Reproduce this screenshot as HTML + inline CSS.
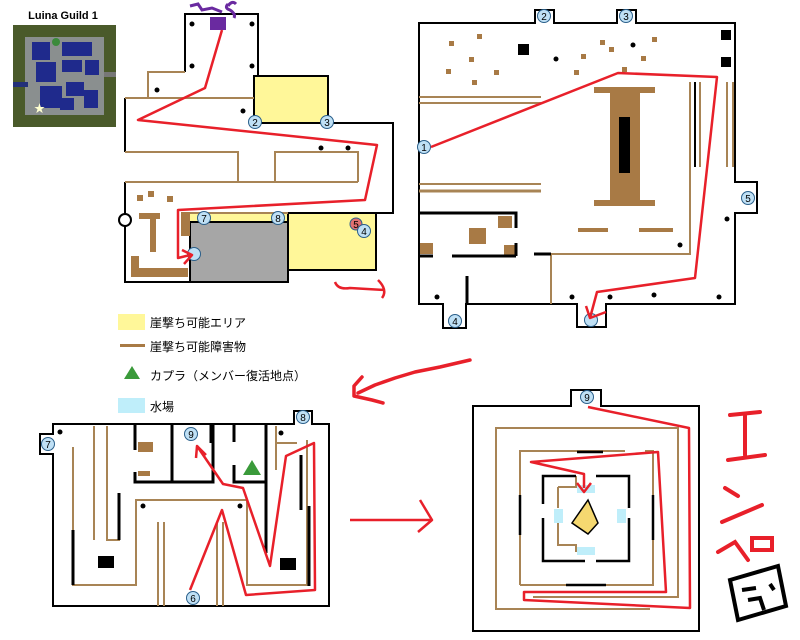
<!DOCTYPE html>
<html><head><meta charset="utf-8"><style>
html,body{margin:0;padding:0;background:#fff;width:800px;height:640px;overflow:hidden}
svg{display:block}
text{font-family:"Liberation Sans","Noto Sans CJK JP",sans-serif}
</style></head><body>
<svg width="800" height="640" viewBox="0 0 800 640" xmlns="http://www.w3.org/2000/svg">
<defs>
<g id="n"><circle r="6.5" fill="#bfe0f5" stroke="#2a5f8a" stroke-width="1"/></g>
</defs>
<!-- minimap -->
<text x="63" y="19" font-size="11" text-anchor="middle" font-weight="bold">Luina Guild 1</text>
<rect x="13" y="25" width="103" height="102" fill="#4a5a2a"/>
<rect x="25" y="37" width="79" height="78" fill="#8a8f8f"/>
<rect x="13" y="82" width="15" height="5" fill="#23307a"/>
<rect x="104" y="72" width="12" height="5" fill="#777"/>
<g fill="#1f2a8c">
<rect x="32" y="42" width="18" height="18"/><rect x="62" y="42" width="30" height="14"/><rect x="36" y="62" width="20" height="20"/><rect x="62" y="60" width="20" height="12"/><rect x="85" y="60" width="14" height="15"/><rect x="40" y="86" width="22" height="22"/><rect x="66" y="82" width="18" height="14"/><rect x="84" y="90" width="14" height="18"/><rect x="60" y="98" width="14" height="12"/>
</g>
<circle cx="56" cy="42" r="4" fill="#3b8a3b"/>
<text x="34" y="112" font-size="11" fill="#ffffd0">★</text>

<!-- TOP-LEFT MAP -->
<rect x="190" y="213" width="98" height="10" fill="#fff799"/>
<rect x="288" y="213" width="88" height="57" fill="#fff799" stroke="#000" stroke-width="2"/>
<rect x="254" y="76" width="74" height="47" fill="#fff799" stroke="#000" stroke-width="2"/>
<rect x="190" y="222" width="98" height="60" fill="#a6a6a6" stroke="#000" stroke-width="2"/>
<polyline points="185,72 185,14 258,14 258,76" fill="none" stroke="#000" stroke-width="2"/>
<polyline points="328,123 393,123 393,213 376,213" fill="none" stroke="#000" stroke-width="2"/>
<polyline points="125,98 125,152" fill="none" stroke="#000" stroke-width="2"/>
<polyline points="125,182 125,282 190,282" fill="none" stroke="#000" stroke-width="2"/>
<g fill="none" stroke="#a88455" stroke-width="2">
<polyline points="185,72 148,72 148,98 125,98"/>
<line x1="148" y1="98" x2="254" y2="98"/>
<polyline points="125,152 238,152 238,182"/>
<polyline points="275,182 275,152 358,152 358,182"/>
<line x1="125" y1="182" x2="358" y2="182"/>
<line x1="190" y1="213" x2="288" y2="213"/>
</g>
<circle cx="125" cy="220" r="6" fill="#fff" stroke="#000" stroke-width="2"/>
<g fill="#a87a45">
<rect x="137" y="195" width="6" height="6"/><rect x="148" y="191" width="6" height="6"/><rect x="167" y="196" width="6" height="6"/>
<rect x="139" y="213" width="21" height="6"/><rect x="150" y="213" width="6" height="39"/>
<rect x="131" y="256" width="8" height="20"/><rect x="131" y="268" width="57" height="9"/>
<rect x="181" y="212" width="9" height="24"/>
</g>
<g fill="#000"><circle cx="192" cy="24" r="2.5"/><circle cx="252" cy="24" r="2.5"/><circle cx="192" cy="66" r="2.5"/><circle cx="252" cy="66" r="2.5"/><circle cx="157" cy="90" r="2.5"/><circle cx="243" cy="111" r="2.5"/><circle cx="321" cy="148" r="2.5"/><circle cx="348" cy="148" r="2.5"/></g>
<use href="#n" x="255" y="122"/><text x="255" y="126" font-size="10" text-anchor="middle">2</text>
<use href="#n" x="327" y="122"/><text x="327" y="126" font-size="10" text-anchor="middle">3</text>
<use href="#n" x="204" y="218"/><text x="204" y="222" font-size="10" text-anchor="middle">7</text>
<use href="#n" x="278" y="218"/><text x="278" y="222" font-size="10" text-anchor="middle">8</text>
<circle cx="356" cy="224" r="6" fill="#e07070" stroke="#2a5f8a"/><text x="356" y="228" font-size="10" text-anchor="middle">5</text>
<use href="#n" x="364" y="231"/><text x="364" y="235" font-size="10" text-anchor="middle">4</text>
<use href="#n" x="194" y="254"/>
<rect x="210" y="17" width="16" height="13" fill="#6a2aa0"/>
<path d="M190 6 L198 4 L202 10 L212 8 L222 12 M228 4 Q224 8 230 10 Q236 14 234 18 M228 6 Q232 0 236 4" fill="none" stroke="#6a2aa0" stroke-width="3"/>
<g fill="none" stroke="#e8202a" stroke-width="2.5" stroke-linejoin="round">
<polyline points="222,30 205,88 138,120 377,145 365,200 178,210 178,258 190,255"/>
<polyline points="182,250 192,255 184,264"/>
<path d="M335 282 Q338 290 350 288 L385 290 M378 280 Q388 290 382 298"/>
</g>

<!-- TOP-RIGHT MAP -->
<path d="M419 23 H535 V10 H554 V23 H617 V10 H636 V23 H735 V182 H757 V213 H735 V304 H606 V327 H577 V304 H466 V328 H443 V304 H419 Z" fill="#fff" stroke="#000" stroke-width="2"/>
<g fill="#a87a45">
<rect x="594" y="87" width="61" height="6"/><rect x="610" y="93" width="30" height="107"/><rect x="594" y="200" width="61" height="6"/>
<rect x="449" y="41" width="5" height="5"/><rect x="477" y="34" width="5" height="5"/><rect x="469" y="57" width="5" height="5"/><rect x="446" y="69" width="5" height="5"/><rect x="494" y="70" width="5" height="5"/><rect x="472" y="80" width="5" height="5"/><rect x="600" y="40" width="5" height="5"/><rect x="609" y="47" width="5" height="5"/><rect x="581" y="54" width="5" height="5"/><rect x="652" y="37" width="5" height="5"/><rect x="641" y="56" width="5" height="5"/><rect x="574" y="70" width="5" height="5"/><rect x="622" y="67" width="5" height="5"/>
<rect x="578" y="228" width="30" height="4"/><rect x="639" y="228" width="34" height="4"/>
<rect x="469" y="228" width="17" height="16"/><rect x="498" y="216" width="14" height="12"/><rect x="504" y="245" width="12" height="10"/><rect x="420" y="243" width="13" height="11"/>
</g>
<g fill="#000"><rect x="619" y="117" width="11" height="56"/><rect x="518" y="44" width="11" height="11"/><rect x="721" y="30" width="10" height="10"/><rect x="721" y="57" width="10" height="10"/></g>
<g stroke="#a88455" stroke-width="2" fill="none">
<line x1="419" y1="97" x2="541" y2="97"/><line x1="419" y1="103" x2="541" y2="103"/>
<line x1="419" y1="184" x2="541" y2="184"/><line x1="419" y1="191" x2="541" y2="191" stroke-width="3"/>
<polyline points="551,304 551,254 690,254 690,82"/>
<line x1="700" y1="82" x2="700" y2="167"/><line x1="727" y1="82" x2="727" y2="167"/><line x1="733" y1="82" x2="733" y2="167"/>
</g>
<g stroke="#000" stroke-width="3" fill="none">
<polyline points="419,213 516,213 516,228"/><line x1="516" y1="243" x2="516" y2="256"/>
<line x1="419" y1="256" x2="433" y2="256"/><line x1="452" y1="256" x2="516" y2="256"/><line x1="534" y1="254" x2="551" y2="254"/>
<line x1="467" y1="276" x2="467" y2="304"/><line x1="695" y1="82" x2="695" y2="167" stroke-width="2"/>
</g>
<g fill="#000"><circle cx="556" cy="59" r="2.5"/><circle cx="633" cy="45" r="2.5"/><circle cx="727" cy="219" r="2.5"/><circle cx="680" cy="245" r="2.5"/><circle cx="437" cy="297" r="2.5"/><circle cx="572" cy="297" r="2.5"/><circle cx="610" cy="297" r="2.5"/><circle cx="654" cy="295" r="2.5"/><circle cx="719" cy="297" r="2.5"/></g>
<use href="#n" x="544" y="16"/><text x="544" y="20" font-size="10" text-anchor="middle">2</text>
<use href="#n" x="626" y="16"/><text x="626" y="20" font-size="10" text-anchor="middle">3</text>
<use href="#n" x="424" y="147"/><text x="424" y="151" font-size="10" text-anchor="middle">1</text>
<use href="#n" x="748" y="198"/><text x="748" y="202" font-size="10" text-anchor="middle">5</text>
<use href="#n" x="455" y="321"/><text x="455" y="325" font-size="10" text-anchor="middle">4</text>
<use href="#n" x="591" y="320"/>
<g fill="none" stroke="#e8202a" stroke-width="2.5" stroke-linejoin="round">
<polyline points="431,147 618,73 717,77 695,278 597,292 590,318"/>
<polyline points="586,306 590,318 606,312"/>
</g>
<g fill="none" stroke="#e8202a" stroke-width="3.5" stroke-linecap="round" stroke-linejoin="round">
<path d="M470 360 L440 367 L415 372 L395 378 L375 385 L358 393"/>
<path d="M362 377 L354 386 L354 396 L372 400 L383 403"/>
</g>

<!-- LEGEND -->
<rect x="118" y="314" width="27" height="16" fill="#fff799"/>
<text x="150" y="327" font-size="12">崖撃ち可能エリア</text>
<rect x="120" y="344" width="25" height="3" fill="#a87a45"/>
<text x="150" y="351" font-size="12">崖撃ち可能障害物</text>
<polygon points="132,366 140,379 124,379" fill="#3a9a3a"/>
<text x="150" y="380" font-size="12">カプラ（メンバー復活地点）</text>
<rect x="118" y="398" width="27" height="15" fill="#bfeefa"/>
<text x="150" y="411" font-size="12">水場</text>

<!-- BOTTOM-LEFT MAP -->
<path d="M53 424 H294 V411 H312 V424 H329 V606 H53 V454 H40 V434 H53 Z" fill="#fff" stroke="#000" stroke-width="2"/>
<g stroke="#a88455" stroke-width="2" fill="none">
<polyline points="73,447 73,585 136,585 136,500 247,500 247,585 307,585 307,440"/>
<line x1="94" y1="426" x2="94" y2="540"/><polyline points="107,426 107,540 119,540 119,493"/>
<line x1="158" y1="522" x2="158" y2="606"/><line x1="164" y1="522" x2="164" y2="606"/>
<line x1="217" y1="522" x2="217" y2="606"/><line x1="223" y1="522" x2="223" y2="606"/>
<polyline points="276,426 276,470"/><line x1="277" y1="443" x2="297" y2="443"/>
<line x1="301" y1="455" x2="301" y2="510"/>
</g>
<g stroke="#000" stroke-width="3" fill="none">
<polyline points="135,424 135,450"/><polyline points="135,472 135,482 213,482 213,424"/>
<line x1="172" y1="424" x2="172" y2="482"/>
<line x1="211" y1="424" x2="211" y2="443"/><polyline points="234,465 234,482 266,482 266,424"/>
<line x1="234" y1="424" x2="234" y2="442"/>
<line x1="73" y1="530" x2="73" y2="585"/><line x1="119" y1="493" x2="119" y2="540"/>
<line x1="301" y1="455" x2="301" y2="510"/><line x1="309" y1="506" x2="309" y2="586"/>
<line x1="266" y1="482" x2="266" y2="553"/>
</g>
<g fill="#a87a45"><rect x="138" y="442" width="15" height="10"/><rect x="138" y="471" width="12" height="5"/></g>
<g fill="#000"><rect x="98" y="556" width="16" height="12"/><rect x="280" y="558" width="16" height="12"/><circle cx="60" cy="432" r="2.5"/><circle cx="143" cy="506" r="2.5"/><circle cx="240" cy="506" r="2.5"/><circle cx="281" cy="433" r="2.5"/></g>
<polygon points="252,460 261,475 243,475" fill="#3a9a3a"/>
<use href="#n" x="48" y="444"/><text x="48" y="448" font-size="10" text-anchor="middle">7</text>
<use href="#n" x="303" y="417"/><text x="303" y="421" font-size="10" text-anchor="middle">8</text>
<use href="#n" x="191" y="434"/><text x="191" y="438" font-size="10" text-anchor="middle">9</text>
<use href="#n" x="193" y="598"/><text x="193" y="602" font-size="10" text-anchor="middle">6</text>
<g fill="none" stroke="#e8202a" stroke-width="2.5" stroke-linejoin="round">
<polyline points="190,590 222,510 246,595 315,590 314,443 286,456 270,566 243,488 223,484 197,446"/>
<polyline points="196,458 197,446 206,455"/>
<path d="M350 520 L432 520 M420 500 L432 520 L418 532"/>
</g>

<!-- BOTTOM-RIGHT MAP -->
<path d="M473 406 H571 V390 H601 V406 H699 V631 H473 Z" fill="#fff" stroke="#000" stroke-width="2"/>
<g stroke="#a88455" stroke-width="2" fill="none">
<polyline points="650,609 496,609 496,428 678,428 678,597 533,597"/>
<polyline points="520,585 520,451 625,451"/><polyline points="645,451 653,451 653,585 520,585"/>
<polyline points="558,487 576,487 576,476 M596,476 596,487 617,487"/>
<polyline points="558,508 558,487 M617,487 617,508"/>
<polyline points="558,518 558,545 576,545 576,552 M596,552 596,545 617,545 617,518"/>
</g>
<g stroke="#000" stroke-width="2.5" fill="none">
<polyline points="543,504 543,476 576,476"/><polyline points="596,476 629,476 629,508"/>
<polyline points="543,518 543,561 585,561"/><polyline points="596,561 629,561 629,518"/>
<line x1="577" y1="452" x2="603" y2="452"/><line x1="566" y1="585" x2="606" y2="585"/>
<line x1="520" y1="495" x2="520" y2="535"/><line x1="653" y1="495" x2="653" y2="540"/>
</g>
<g fill="#bfeefa"><rect x="577" y="485" width="18" height="8"/><rect x="577" y="547" width="18" height="8"/><rect x="554" y="509" width="9" height="14"/><rect x="617" y="509" width="9" height="14"/></g>
<polygon points="588,500 598,523 588,534 572,523" fill="#f5d870" stroke="#000" stroke-width="1.5"/>
<use href="#n" x="587" y="397"/><text x="587" y="401" font-size="10" text-anchor="middle">9</text>
<g fill="none" stroke="#e8202a" stroke-width="2.5" stroke-linejoin="round">
<polyline points="588,407 689,428 690,608 524,600 524,592 666,592 658,452 531,462 584,474 584,488"/>
<polyline points="577,483 584,492 591,483"/>
</g>
<!-- handwritten -->
<g fill="none" stroke="#e8202a" stroke-width="4" stroke-linecap="round">
<path d="M730 415 L760 412 M745 414 L745 455 M728 460 L765 455"/>
<path d="M725 488 L738 496 M722 522 L762 505"/>
<path d="M718 552 L735 542 L748 560 M752 538 L772 538 L772 550 L752 550 Z"/>
</g>
<g fill="none" stroke="#000" stroke-width="4">
<path d="M730 580 L778 566 L786 606 L738 620 Z"/>
<path d="M742 590 L756 588 M748 600 L760 598 L764 610 M770 584 L774 590"/>
</g>
</svg>
</body></html>
